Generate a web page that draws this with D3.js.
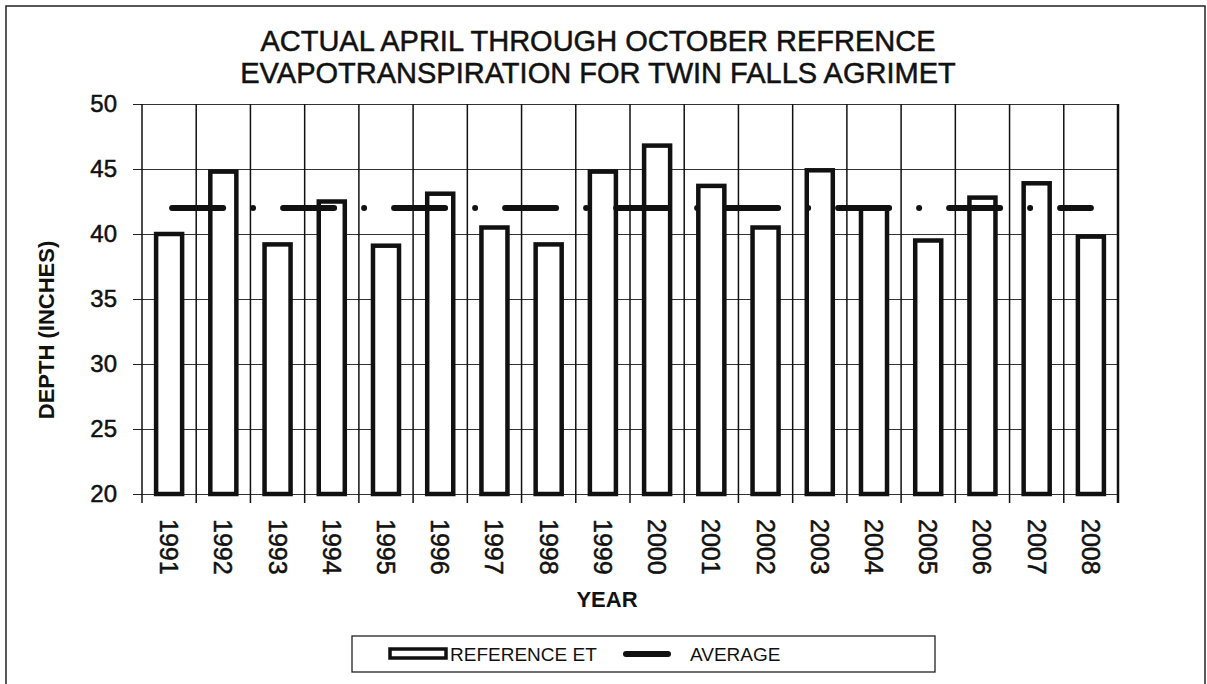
<!DOCTYPE html>
<html>
<head>
<meta charset="utf-8">
<script src="https://cdn.jsdelivr.net/npm/d3@7"></script>
<style>
  body { margin: 0; background: #fff; }
  svg { display: block; font-family: 'Liberation Sans', Arial, sans-serif; }
</style>
</head>
<body>
<div id="chart"></div>
<script>
const years = ['1991', '1992', '1993', '1994', '1995', '1996', '1997', '1998', '1999',
  '2000', '2001', '2002', '2003', '2004', '2005', '2006', '2007', '2008'];
const referenceEt = [40.0, 44.8, 39.2, 42.5, 39.1, 43.1, 40.5, 39.2, 44.8,
  46.8, 43.7, 40.5, 44.9, 42.0, 39.5, 42.8, 43.9, 39.8];
const averageEt = [42.0, 42.0, 42.0, 42.0, 42.0, 42.0, 42.0, 42.0, 42.0,
  42.0, 42.0, 42.0, 42.0, 42.0, 42.0, 42.0, 42.0, 42.0];
const yTicks = [20, 25, 30, 35, 40, 45, 50];
const titleLines = ['ACTUAL APRIL THROUGH OCTOBER REFRENCE', 'EVAPOTRANSPIRATION FOR TWIN FALLS AGRIMET'];

const width = 1207;
const height = 684;
const margin = { top: 104, right: 89, bottom: 190, left: 142 };

const x = d3.scaleBand()
  .domain(years)
  .range([margin.left, width - margin.right]);

const y = d3.scaleLinear()
  .domain([20, 50])
  .range([height - margin.bottom, margin.top]);

const cx = d => x(d) + x.bandwidth() / 2;
const barWidth = x.bandwidth() * 0.48;

const svg = d3.select('#chart')
  .append('svg')
  .attr('width', width)
  .attr('height', height);

// outer frame of the scanned page
svg.append('rect')
  .attr('x', 6).attr('y', 6)
  .attr('width', width - 8).attr('height', height + 10)
  .attr('fill', 'none')
  .attr('stroke', '#222')
  .attr('stroke-width', 1.5);

// title
svg.append('g')
  .attr('font-size', 29)
  .attr('text-anchor', 'middle')
  .attr('fill', '#111')
  .attr('stroke', '#111')
  .attr('stroke-width', 0.5)
  .selectAll('text')
  .data(titleLines)
  .join('text')
  .attr('x', 598)
  .attr('y', (d, i) => 51 + i * 32)
  .text(d => d);

// horizontal grid + y ticks
const yAxis = g => g
  .attr('transform', `translate(${margin.left},0)`)
  .call(d3.axisLeft(y).tickValues(yTicks).tickSize(9).tickPadding(16))
  .call(g => g.select('.domain').remove())
  .call(g => g.selectAll('.tick line').attr('stroke', '#222'))
  .call(g => g.selectAll('.tick text')
    .attr('font-size', 24)
    .attr('font-family', "'Liberation Sans', Arial, sans-serif")
    .attr('fill', '#111')
    .attr('stroke', '#111')
    .attr('stroke-width', 0.5))
  .call(g => g.selectAll('.tick line').clone()
    .attr('x1', 0)
    .attr('x2', width - margin.left - margin.right)
    .attr('stroke', '#333')
    .attr('stroke-width', 1));

svg.append('g').call(yAxis);

// vertical grid at category boundaries, extending below as ticks
const boundaries = d3.range(years.length + 1).map(i => margin.left + i * x.step());
svg.append('g')
  .selectAll('line')
  .data(boundaries)
  .join('line')
  .attr('x1', d => d).attr('x2', d => d)
  .attr('y1', y(50))
  .attr('y2', y(20) + 9)
  .attr('stroke', '#111')
  .attr('stroke-width', (d, i) => i === years.length ? 2.5 : 1.5);

// x labels
svg.append('g')
  .attr('font-size', 25)
  .attr('fill', '#111')
  .attr('stroke', '#111')
  .attr('stroke-width', 0.5)
  .selectAll('text')
  .data(years)
  .join('text')
  .attr('transform', d => `translate(${cx(d)},519) rotate(90)`)
  .attr('dy', '0.36em')
  .text(d => d);

// bars
svg.append('g')
  .selectAll('rect')
  .data(years)
  .join('rect')
  .attr('x', d => cx(d) - barWidth / 2)
  .attr('y', (d, i) => y(referenceEt[i]))
  .attr('width', barWidth)
  .attr('height', (d, i) => y(20) - y(referenceEt[i]))
  .attr('fill', '#fff')
  .attr('stroke', '#111')
  .attr('stroke-width', 4.5);

// average line (dash-dot)
const line = d3.line()
  .x(d => cx(d.year))
  .y(d => y(d.value));

svg.append('path')
  .datum(years.map((year, i) => ({ year, value: averageEt[i] })))
  .attr('fill', 'none')
  .attr('stroke', '#111')
  .attr('stroke-width', 6)
  .attr('stroke-linecap', 'round')
  .attr('stroke-dasharray', '51,30,0,30')
  .attr('stroke-dashoffset', -3)
  .attr('d', line);

// axis titles
svg.append('text')
  .attr('transform', 'translate(46,330) rotate(-90)')
  .attr('text-anchor', 'middle')
  .attr('dy', '0.36em')
  .attr('font-size', 22)
  .attr('font-weight', 'bold')
  .attr('fill', '#111')
  .text('DEPTH (INCHES)');

svg.append('text')
  .attr('x', 607)
  .attr('y', 607)
  .attr('text-anchor', 'middle')
  .attr('font-size', 22)
  .attr('font-weight', 'bold')
  .attr('fill', '#111')
  .text('YEAR');

// legend
const legend = svg.append('g');
legend.append('rect')
  .attr('x', 352).attr('y', 636)
  .attr('width', 583).attr('height', 36)
  .attr('fill', '#fff')
  .attr('stroke', '#222')
  .attr('stroke-width', 1.3);

legend.append('rect')
  .attr('x', 390).attr('y', 649)
  .attr('width', 56).attr('height', 9)
  .attr('fill', '#fff')
  .attr('stroke', '#111')
  .attr('stroke-width', 3.5);

legend.append('text')
  .attr('x', 450).attr('y', 661)
  .attr('font-size', 19)
  .attr('fill', '#111')
  .text('REFERENCE ET');

legend.append('line')
  .attr('x1', 626).attr('x2', 668)
  .attr('y1', 654).attr('y2', 654)
  .attr('stroke', '#111')
  .attr('stroke-width', 6)
  .attr('stroke-linecap', 'round');

legend.append('text')
  .attr('x', 690).attr('y', 661)
  .attr('font-size', 19)
  .attr('fill', '#111')
  .text('AVERAGE');
</script>
</body>
</html>
